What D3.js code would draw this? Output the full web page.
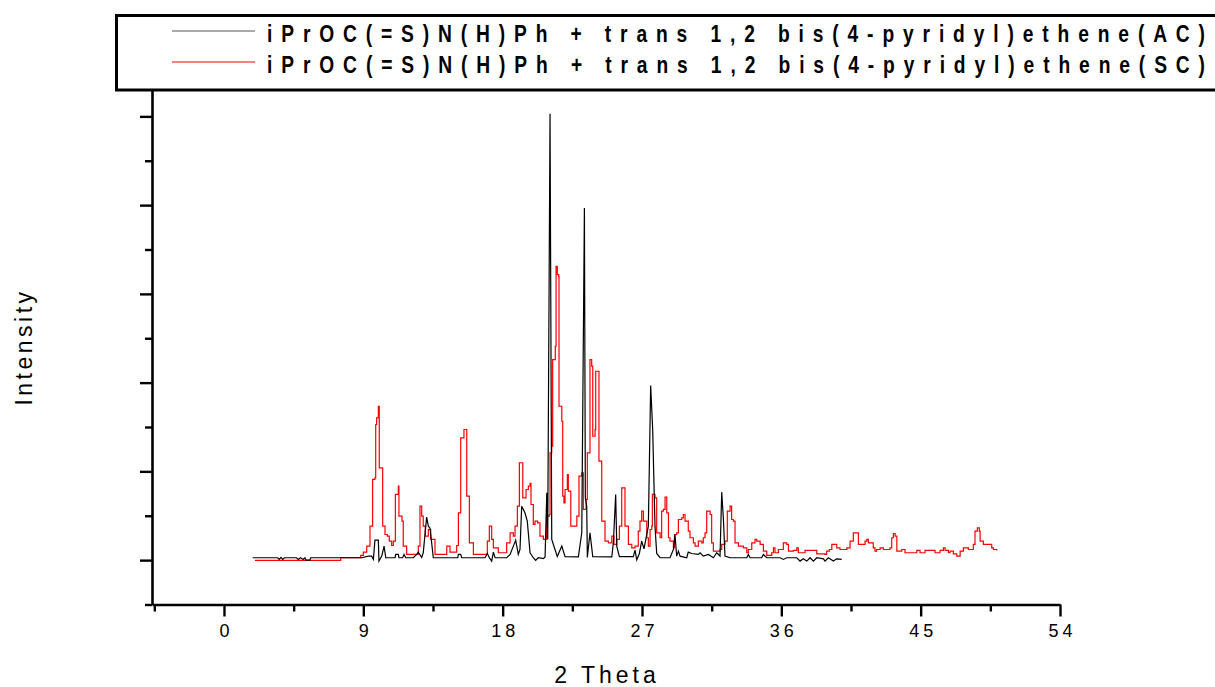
<!DOCTYPE html>
<html>
<head>
<meta charset="utf-8">
<script src="https://cdn.jsdelivr.net/npm/d3@7"></script>
<style>
  html, body { margin: 0; padding: 0; background: #ffffff; }
  svg { display: block; }
</style>
</head>
<body>
<svg id="chart" width="1215" height="687"></svg>
<script>
// ---------- DATA ----------
const seriesNames = [
  "iPrOC(=S)N(H)Ph + trans 1,2 bis(4-pyridyl)ethene(AC)",
  "iPrOC(=S)N(H)Ph + trans 1,2 bis(4-pyridyl)ethene(SC)"
];
const seriesColors = ["#000000", "#ff0000"];

const xTickValues = [0, 9, 18, 27, 36, 45, 54];
const xMinorTickValues = [-4.5, 4.5, 13.5, 22.5, 31.5, 40.5, 49.5];
const yTickValues = [0, 1000, 2000, 3000, 4000, 5000];
const yMinorTickValues = [-500, 500, 1500, 2500, 3500, 4500, 5500];

const xLabel = "2 Theta";
const yLabel = "Intensity";

// AC (black)
const acTheta = [1.85,3.47,3.57,3.68,3.79,3.9,4.69,4.8,4.95,5.12,5.23,5.3,5.55,5.6,8.9,9.32,9.54,9.65,9.75,9.97,10.01,10.19,10.34,10.45,11.05,11.09,11.26,11.3,11.54,11.63,11.74,12.23,12.45,12.55,12.77,12.87,13.09,13.2,13.31,13.52,15.1,15.14,15.29,15.35,16.86,17.01,17.14,17.29,17.4,17.51,18.26,18.48,18.69,18.84,19.01,19.12,19.23,19.44,19.59,19.77,19.98,20.13,20.3,20.63,20.74,20.85,20.91,21.06,21.17,21.38,21.53,21.82,22.03,22.89,23.11,23.28,23.34,23.43,23.47,23.64,23.82,25.05,25.15,25.3,25.37,25.54,26.44,26.55,26.66,26.83,26.98,27.13,27.41,27.56,27.69,27.84,27.95,28.17,28.81,29.03,29.13,29.24,29.35,29.46,29.89,29.99,30.21,30.64,30.75,30.96,31.29,31.61,31.83,32.04,32.15,32.26,32.36,32.69,33.77,33.87,33.98,34.73,34.84,35.06,35.92,36.13,36.35,37.0,37.21,37.42,37.64,37.86,38.07,38.29,38.72,38.82,39.04,39.36,39.58,39.9];
const acIntensity = [27,27,8,30,8,27,27,8,27,8,27,0,0,27,27,45,45,8,225,225,-11,45,158,27,27,64,64,27,27,64,27,27,64,90,30,83,484,383,360,27,27,64,64,27,27,75,27,-11,90,27,27,64,158,225,64,120,608,534,440,83,27,-3,27,17,35,759,233,5030,233,120,40,158,40,37,308,3968,702,608,30,308,40,37,195,740,158,40,40,113,4,75,214,128,383,1967,1472,383,75,27,27,120,289,45,101,45,27,90,75,64,83,45,64,27,83,45,766,458,45,27,27,64,27,27,64,27,27,8,27,27,-11,15,-11,27,-11,27,15,-11,27,-11,15,8];

// SC (red)
const scTheta = [2.0,7.49,7.54,8.79,8.83,9.0,9.22,9.43,9.6,9.75,9.8,9.86,9.97,10.03,10.12,10.25,10.4,10.55,10.68,10.83,10.94,11.07,11.26,11.3,11.5,11.58,11.8,12.45,12.55,12.66,12.77,12.87,13.0,13.2,13.35,13.63,14.17,14.39,14.6,15.03,15.14,15.29,15.5,15.68,15.85,16.11,16.86,17.01,17.14,17.29,17.4,17.72,18.15,18.26,18.48,18.69,18.8,18.95,19.08,19.23,19.3,19.51,19.66,19.77,19.83,19.98,20.09,20.26,20.41,20.63,20.83,21.01,21.06,21.17,21.23,21.4,21.45,21.49,21.53,21.62,21.64,21.82,21.88,21.96,22.03,22.18,22.24,22.4,22.79,22.93,23.11,23.21,23.39,23.47,23.64,23.75,23.82,23.97,24.01,24.18,24.22,24.4,24.61,24.83,25.05,25.19,25.37,25.54,25.69,25.86,25.9,26.12,26.34,26.55,26.76,26.87,26.98,27.09,27.31,27.41,27.52,27.63,27.67,27.84,27.95,28.17,28.27,28.38,28.49,28.6,28.71,28.81,29.03,29.1,29.24,29.35,29.57,29.67,29.78,29.89,29.99,30.1,30.32,30.43,30.64,30.86,30.96,31.07,31.18,31.29,31.4,31.5,31.61,32.04,32.15,32.36,32.51,32.69,32.79,32.9,33.01,33.23,33.55,33.77,33.87,34.09,34.3,34.41,34.63,34.84,35.06,35.38,35.49,35.59,35.81,36.03,36.13,36.35,36.46,36.78,37.0,37.1,37.53,37.96,38.29,38.82,38.93,39.1,39.26,39.47,39.58,39.79,40.23,40.44,40.65,40.87,40.98,41.2,41.41,41.52,41.62,41.94,42.05,42.16,42.38,42.59,43.02,43.13,43.24,43.35,43.46,43.78,43.99,44.42,44.75,44.96,45.28,45.61,45.93,46.25,46.47,46.58,46.79,46.9,47.11,47.33,47.55,47.76,48.08,48.3,48.4,48.51,48.66,48.79,48.84,49.05,49.27,49.59,49.7,49.92];
const scIntensity = [-3,-3,27,27,53,90,158,383,909,928,1528,1603,1734,1040,1040,383,289,270,214,165,214,740,833,495,440,158,64,64,158,608,495,383,270,345,233,64,64,158,90,165,533,1378,1472,721,195,64,64,214,383,233,139,83,83,195,308,270,383,608,1097,1097,702,796,833,864,627,402,440,420,270,233,495,514,1209,1284,2260,2410,3310,3310,3217,3198,1734,1565,721,645,796,965,777,383,495,946,983,571,683,1209,2260,2185,1396,1471,2128,2128,1115,440,214,195,270,177,233,383,815,815,383,177,139,158,327,440,552,440,252,158,345,383,740,702,308,252,552,571,709,533,252,214,139,289,308,458,477,514,440,440,327,252,195,158,214,195,252,308,552,552,514,195,101,120,177,214,552,608,458,440,195,158,139,83,120,195,233,214,177,101,53,83,139,83,120,120,195,177,101,109,139,83,109,109,71,64,101,120,177,177,139,120,139,214,308,308,177,177,214,233,195,139,101,120,139,120,139,252,300,270,101,120,83,83,109,83,109,109,83,109,139,109,83,101,71,45,101,139,120,120,177,327,364,327,214,177,177,139,120,109];

// ---------- CHART ----------
const svg = d3.select("#chart");
const W = 1215, H = 687;
svg.append("rect").attr("width", W).attr("height", H).attr("fill", "#fff");

const x = d3.scaleLinear().domain([-4.65, 54]).range([152, 1060]);
const y = d3.scaleLinear().domain([-500, 5500]).range([604.5, 72]);

const axisColor = "#000";
const fontFam = "'Liberation Sans', Arial, Helvetica, sans-serif";

// X axis (major)
const gx = svg.append("g").attr("transform", `translate(0,${y(-500)})`)
  .call(d3.axisBottom(x).tickValues(xTickValues).tickSize(12).tickSizeOuter(0).tickPadding(8)
    .tickFormat(d3.format("d")));
gx.select(".domain").attr("stroke", axisColor).attr("stroke-width", 2.6);
gx.selectAll(".tick line").attr("stroke", axisColor).attr("stroke-width", 2.4);
gx.selectAll(".tick text").attr("fill", "#000").attr("font-family", fontFam)
  .attr("font-size", 18).attr("letter-spacing", "4px").attr("dx", "2px");
// X minor
const gxm = svg.append("g").attr("transform", `translate(0,${y(-500)})`)
  .call(d3.axisBottom(x).tickValues(xMinorTickValues).tickSize(7).tickSizeOuter(0).tickFormat(""));
gxm.select(".domain").remove();
gxm.selectAll(".tick line").attr("stroke", axisColor).attr("stroke-width", 2.4);

// Y axis (major)
const gy = svg.append("g").attr("transform", `translate(${x(-4.65)},0)`)
  .call(d3.axisLeft(y).tickValues(yTickValues).tickSize(12).tickSizeOuter(0).tickFormat(""));
gy.select(".domain").attr("stroke", axisColor).attr("stroke-width", 2.6);
gy.selectAll(".tick line").attr("stroke", axisColor).attr("stroke-width", 2.4);
// Y minor
const gym = svg.append("g").attr("transform", `translate(${x(-4.65)},0)`)
  .call(d3.axisLeft(y).tickValues(yMinorTickValues).tickSize(7).tickSizeOuter(0).tickFormat(""));
gym.select(".domain").remove();
gym.selectAll(".tick line").attr("stroke", axisColor).attr("stroke-width", 2.4);

// Axis titles
svg.append("text").attr("x", 607).attr("y", 683)
  .attr("text-anchor", "middle").attr("font-family", fontFam).attr("font-size", 23)
  .attr("letter-spacing", "4px").attr("fill", "#000").text(xLabel);
svg.append("text").attr("transform", "translate(32,347) rotate(-90)")
  .attr("text-anchor", "middle").attr("font-family", fontFam).attr("font-size", 23)
  .attr("letter-spacing", "3.5px").attr("fill", "#000").text(yLabel);

// Data lines
const acData = acTheta.map((t, i) => [t, acIntensity[i]]);
const scData = scTheta.map((t, i) => [t, scIntensity[i]]);

const lineLinear = d3.line().x(d => x(d[0])).y(d => y(d[1]));
const lineStep = d3.line().x(d => x(d[0])).y(d => y(d[1])).curve(d3.curveStepAfter);

svg.append("path").datum(scData).attr("d", lineStep)
  .attr("fill", "none").attr("stroke", seriesColors[1]).attr("stroke-width", 1.2);
svg.append("path").datum(acData).attr("d", lineLinear)
  .attr("fill", "none").attr("stroke", seriesColors[0]).attr("stroke-width", 1.2);

// Legend
const lg = svg.append("g");
lg.append("rect").attr("x", 116.5).attr("y", 15.5).attr("width", 1110).attr("height", 74.5)
  .attr("fill", "#fff").attr("stroke", "#000").attr("stroke-width", 3);
const rowsY = [31, 62];
const textBase = [41.5, 73];
const sx = 0.8;
seriesNames.forEach((name, i) => {
  lg.append("line").attr("x1", 172).attr("x2", 255).attr("y1", rowsY[i]).attr("y2", rowsY[i])
    .attr("stroke", i === 0 ? "#555" : seriesColors[i]).attr("stroke-width", 1.2);
  lg.append("text").attr("transform", `translate(267,${textBase[i]}) scale(${sx},1)`)
    .attr("font-family", fontFam)
    .attr("font-weight", "bold").attr("font-size", 24)
    .attr("textLength", 938 / sx).attr("lengthAdjust", "spacing")
    .attr("fill", "#000").text(name);
});
</script>
</body>
</html>
